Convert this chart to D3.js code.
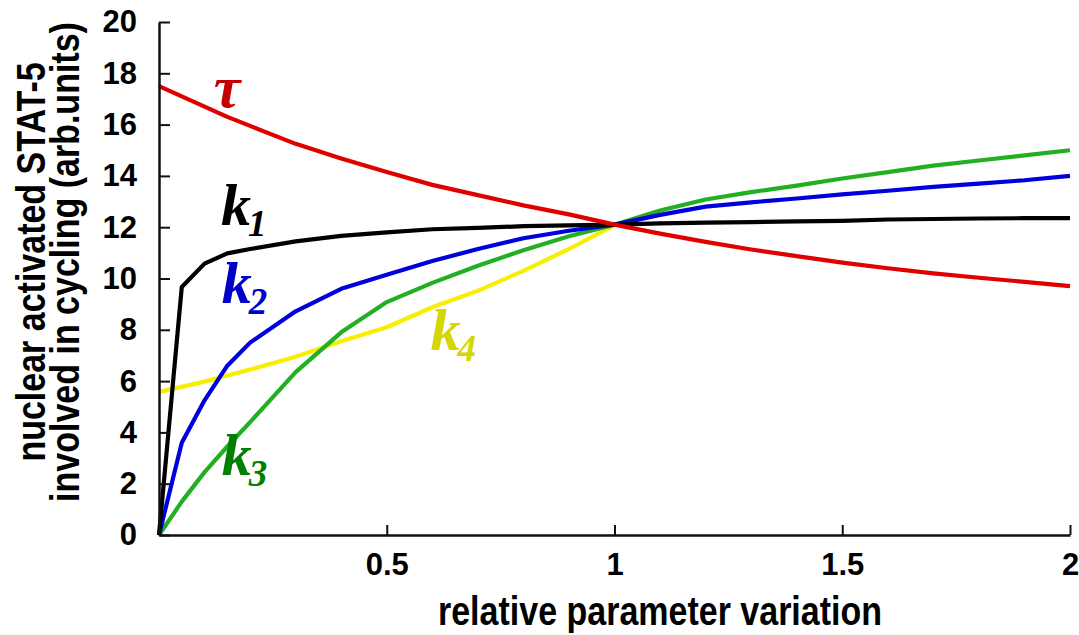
<!DOCTYPE html>
<html>
<head>
<meta charset="utf-8">
<script src="https://cdn.jsdelivr.net/npm/d3@7"></script>
<style>
  body { margin: 0; background: #fff; }
  svg { display: block; }
</style>
</head>
<body>
<div id="chart"></div>
<script>
// DATA
const xs = [0, 0.05, 0.1, 0.15, 0.2, 0.3, 0.4, 0.5, 0.6, 0.7, 0.8, 0.9, 1.0,
  1.1, 1.2, 1.3, 1.4, 1.5, 1.6, 1.7, 1.8, 1.9, 2.0];

const tau = [17.5, 17.1, 16.7, 16.3, 15.95, 15.25, 14.68, 14.15, 13.65, 13.25, 12.85, 12.5, 12.1,
  11.75, 11.43, 11.13, 10.87, 10.62, 10.4, 10.2, 10.03, 9.87, 9.7];
const k1 = [0, 9.67, 10.58, 10.98, 11.15, 11.45, 11.66, 11.8, 11.92, 11.97, 12.04, 12.07, 12.1,
  12.15, 12.18, 12.2, 12.23, 12.25, 12.3, 12.32, 12.34, 12.35, 12.35];
const k2 = [0, 3.6, 5.25, 6.6, 7.5, 8.72, 9.6, 10.15, 10.68, 11.15, 11.57, 11.86, 12.1,
  12.48, 12.8, 12.97, 13.12, 13.28, 13.42, 13.57, 13.7, 13.83, 14.0];
const k3 = [0, 1.3, 2.45, 3.45, 4.4, 6.35, 7.9, 9.08, 9.83, 10.5, 11.1, 11.65, 12.1,
  12.65, 13.08, 13.37, 13.62, 13.9, 14.15, 14.4, 14.6, 14.8, 15.0];
// k4 only runs from 0 to 1
const k4x = [0, 0.1, 0.2, 0.3, 0.4, 0.5, 0.6, 0.7, 0.8, 0.9, 1.0];
const k4 = [5.58, 5.98, 6.45, 6.95, 7.55, 8.1, 8.88, 9.52, 10.3, 11.15, 12.08];

const xTicks = [0.5, 1, 1.5, 2];
const yTicks = [0, 2, 4, 6, 8, 10, 12, 14, 16, 18, 20];

// CANVAS SETUP
const width = 1079,
  height = 635;

const svg = d3
  .select("#chart")
  .append("svg")
  .attr("width", width)
  .attr("height", height);

svg.append("rect").attr("width", width).attr("height", height).attr("fill", "#fff");

const xScale = d3.scaleLinear().domain([0, 2]).range([159, 1070]);
const yScale = d3.scaleLinear().domain([0, 20]).range([535, 22]);

const series = [
  { name: "k4", xs: k4x, ys: k4, color: "#f8ee00" },
  { name: "k3", xs: xs, ys: k3, color: "#22b022" },
  { name: "k2", xs: xs, ys: k2, color: "#0000dc" },
  { name: "k1", xs: xs, ys: k1, color: "#000000" },
  { name: "tau", xs: xs, ys: tau, color: "#e00000" },
];

const line = d3
  .line()
  .x((d) => xScale(d[0]))
  .y((d) => yScale(d[1]));

// RENDER
svg
  .append("g")
  .selectAll("path")
  .data(series)
  .join("path")
  .attr("fill", "none")
  .attr("stroke", (d) => d.color)
  .attr("stroke-width", 4.2)
  .attr("stroke-linejoin", "round")
  .attr("d", (d) => line(d.xs.map((x, i) => [x, d.ys[i]])));

// axes, ticks pointing inward
const xAxis = svg
  .append("g")
  .attr("transform", `translate(0,${yScale(0)})`)
  .call(
    d3.axisBottom(xScale).tickValues(xTicks).tickFormat(d3.format("")).tickSizeInner(-10).tickSizeOuter(0).tickPadding(18)
  );

const yAxis = svg
  .append("g")
  .attr("transform", `translate(${xScale(0)},0)`)
  .call(d3.axisLeft(yScale).tickValues(yTicks).tickSizeInner(-11).tickSizeOuter(0).tickPadding(22));

[xAxis, yAxis].forEach(function (g) {
  g.select(".domain").attr("stroke", "#111").attr("stroke-width", 2.5);
  g.selectAll(".tick line").attr("stroke", "#111").attr("stroke-width", 2);
  g.selectAll(".tick text")
    .attr("fill", "#000")
    .style("font-family", "'Liberation Sans', Arial, sans-serif")
    .style("font-weight", "bold")
    .style("font-size", "31px");
});

// axis titles
const titleStyle = (t) =>
  t
    .attr("text-anchor", "middle")
    .attr("fill", "#000")
    .style("font-family", "'Liberation Sans', Arial, sans-serif")
    .style("font-weight", "bold")
    .style("font-size", "34px");

svg
  .append("text")
  .attr("transform", "translate(660,625) scale(1,1.2)")
  .text("relative parameter variation")
  .call(titleStyle);

svg
  .append("text")
  .attr("transform", "translate(45,262) rotate(-90) scale(1,1.2)")
  .text("nuclear activated STAT-5")
  .call(titleStyle);

svg
  .append("text")
  .attr("transform", "translate(79,262) rotate(-90) scale(1,1.2)")
  .text("involved in cycling (arb.units)")
  .call(titleStyle);

// curve labels
const labels = [
  { main: "τ", sub: "", x: 0.12, y: 16.7, color: "#c40000", size: 60 },
  { main: "k", sub: "1", x: 0.136, y: 12.09, color: "#000000", size: 60 },
  { main: "k", sub: "2", x: 0.138, y: 9.05, color: "#0000c8", size: 60 },
  { main: "k", sub: "3", x: 0.138, y: 2.34, color: "#008000", size: 60 },
  { main: "k", sub: "4", x: 0.596, y: 7.21, color: "#d6d600", size: 60 },
];

const lbl = svg
  .append("g")
  .selectAll("text")
  .data(labels)
  .join("text")
  .attr("x", (d) => xScale(d.x))
  .attr("y", (d) => yScale(d.y))
  .attr("fill", (d) => d.color)
  .style("font-family", "'Liberation Serif', 'Times New Roman', serif")
  .style("font-weight", "bold")
  .style("font-style", "italic")
  .style("font-size", (d) => d.size + "px");

lbl.append("tspan").text((d) => d.main);
lbl
  .append("tspan")
  .attr("dx", -3)
  .attr("dy", 11)
  .style("font-size", "37px")
  .text((d) => d.sub);
</script>
</body>
</html>
